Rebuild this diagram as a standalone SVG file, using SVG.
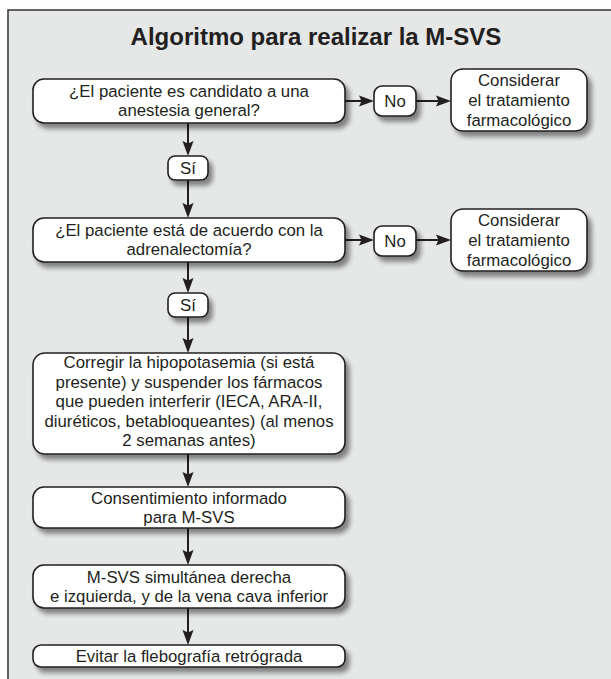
<svg xmlns="http://www.w3.org/2000/svg" width="611" height="679" viewBox="0 0 611 679">
<defs>
<style>
.box{fill:#ffffff;stroke:#231f20;stroke-width:1.6;filter:url(#sh);}
.t{font-family:"Liberation Sans",Arial,sans-serif;font-size:16.8px;fill:#231f20;text-anchor:middle;}
.title{font-family:"Liberation Sans",Arial,sans-serif;font-size:24px;font-weight:bold;fill:#231f20;text-anchor:middle;}
.c{fill:none;stroke:#231f20;stroke-width:2;marker-end:url(#ah);}
</style>
<filter id="sh" x="-10%" y="-30%" width="130%" height="180%">
<feGaussianBlur in="SourceAlpha" stdDeviation="2.8"/>
<feOffset dx="4" dy="5" result="b"/>
<feComponentTransfer><feFuncA type="linear" slope="0.45"/></feComponentTransfer>
<feMerge><feMergeNode/><feMergeNode in="SourceGraphic"/></feMerge>
</filter>
<marker id="ah" markerUnits="userSpaceOnUse" markerWidth="16" markerHeight="12" viewBox="0 0 16 12" refX="5" refY="6" orient="auto">
<path d="M0,0.5 L15,6 L0,11.5 L2.5,6 z" fill="#231f20"/>
</marker>
</defs>
<rect x="0" y="0" width="611" height="679" fill="#ffffff"/>
<rect x="8" y="10" width="640" height="700" fill="#e6e7e7" stroke="#333333" stroke-width="1.5"/>
<text class="title" x="316" y="45">Algoritmo para realizar la M-SVS</text>
<g id="connectors">
<path class="c" d="M188,123 V146"/>
<path class="c" d="M188,180 V208"/>
<path class="c" d="M188,262 V283"/>
<path class="c" d="M188,317 V343"/>
<path class="c" d="M188,454 V477"/>
<path class="c" d="M188,528 V555"/>
<path class="c" d="M188,608 V635"/>
<path class="c" d="M345,101 H364"/>
<path class="c" d="M416,101 H441"/>
<path class="c" d="M345,240 H364"/>
<path class="c" d="M416,240 H441"/>
</g>
<g id="q1">
<rect class="box" x="33" y="79" width="312" height="44" rx="11"/>
<text class="t" x="189" y="97">¿El paciente es candidato a una</text>
<text class="t" x="189" y="116">anestesia general?</text>
</g>
<g id="si1">
<rect class="box" x="168" y="156" width="40" height="24" rx="7"/>
<text class="t" x="188" y="174">Sí</text>
</g>
<g id="no1">
<rect class="box" x="374" y="86" width="42" height="30" rx="8"/>
<text class="t" x="395" y="107">No</text>
</g>
<g id="farm1">
<rect class="box" x="451" y="69" width="136" height="62" rx="12"/>
<text class="t" x="519" y="86">Considerar</text>
<text class="t" x="519" y="106">el tratamiento</text>
<text class="t" x="519" y="126">farmacológico</text>
</g>
<g id="q2">
<rect class="box" x="33" y="218" width="312" height="44" rx="11"/>
<text class="t" x="189" y="236">¿El paciente está de acuerdo con la</text>
<text class="t" x="189" y="255">adrenalectomía?</text>
</g>
<g id="si2">
<rect class="box" x="168" y="293" width="40" height="24" rx="7"/>
<text class="t" x="188" y="311">Sí</text>
</g>
<g id="no2">
<rect class="box" x="374" y="226" width="42" height="30" rx="8"/>
<text class="t" x="395" y="247">No</text>
</g>
<g id="farm2">
<rect class="box" x="451" y="209" width="136" height="62" rx="12"/>
<text class="t" x="519" y="226">Considerar</text>
<text class="t" x="519" y="246">el tratamiento</text>
<text class="t" x="519" y="266">farmacológico</text>
</g>
<g id="step1">
<rect class="box" x="33" y="353" width="312" height="101" rx="12"/>
<text class="t" x="189" y="368">Corregir la hipopotasemia (si está</text>
<text class="t" x="189" y="387.5">presente) y suspender los fármacos</text>
<text class="t" x="189" y="407">que pueden interferir (IECA, ARA-II,</text>
<text class="t" x="189" y="426.5">diuréticos, betabloqueantes) (al menos</text>
<text class="t" x="189" y="446">2 semanas antes)</text>
</g>
<g id="step2">
<rect class="box" x="33" y="487" width="312" height="41" rx="11"/>
<text class="t" x="189" y="504">Consentimiento informado</text>
<text class="t" x="189" y="522.8">para M-SVS</text>
</g>
<g id="step3">
<rect class="box" x="33" y="565" width="312" height="43" rx="11"/>
<text class="t" x="189" y="583">M-SVS simultánea derecha</text>
<text class="t" x="189" y="601.8">e izquierda, y de la vena cava inferior</text>
</g>
<g id="step4">
<rect class="box" x="33" y="645" width="312" height="22" rx="8"/>
<text class="t" x="189" y="662">Evitar la flebografía retrógrada</text>
</g>
</svg>
